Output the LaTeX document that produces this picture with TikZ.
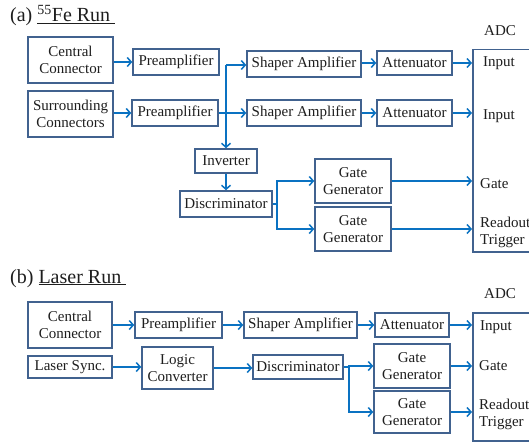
\documentclass[tikz,border=0pt]{standalone}
\usepackage{fontspec}
\setmainfont{Liberation Serif}
\usetikzlibrary{arrows.meta}
\definecolor{boxc}{HTML}{41628F}
\definecolor{arrc}{HTML}{0A72C2}
\definecolor{txtc}{HTML}{1E1E1E}
\tikzset{
  blk/.style={draw=boxc, line width=1.5pt, inner sep=0pt, align=center, text=txtc,
    font=\fontsize{15}{17}\selectfont},
  lbl/.style={inner sep=0pt, text=txtc, font=\fontsize{15}{17}\selectfont, align=left},
  ttl/.style={inner sep=0pt, text=txtc, font=\fontsize{20}{24}\selectfont},
  arr/.style={draw=arrc, line width=1.5pt, -{Straight Barb[length=4pt,width=9pt]}}
}
\begin{document}
\begin{tikzpicture}[x=1pt,y=-1pt]
\clip (0,0) rectangle (529,441);
\fill[white] (0,0) rectangle (529,441);

% ---------- (a) ----------
\node[ttl, anchor=base west] (ta) at (10,22) {(a) \underline{\textsuperscript{55}Fe Run\ }};

\node[blk, minimum width=85, minimum height=46] (cc1) at (70.5,60) {Central\\Connector};
\node[blk, minimum width=86, minimum height=26] (pre1) at (176,62) {Preamplifier};
\node[blk, minimum width=85, minimum height=46] (sc) at (70.5,114) {Surrounding\\Connectors};
\node[blk, minimum width=86, minimum height=26] (pre2) at (175,113) {Preamplifier};
\node[blk, minimum width=114, minimum height=26] (sh1) at (304,64) {Shaper Amplifier};
\node[blk, minimum width=75, minimum height=24] (att1) at (414.5,63) {Attenuator};
\node[blk, minimum width=114, minimum height=26] (sh2) at (304,113) {Shaper Amplifier};
\node[blk, minimum width=75, minimum height=26] (att2) at (414.5,113) {Attenuator};
\node[blk, minimum width=62, minimum height=24] (inv) at (226,161) {Inverter};
\node[blk, minimum width=92, minimum height=26] (disc) at (226,204) {Discriminator};
\node[blk, minimum width=76, minimum height=44] (gg1) at (353,181) {Gate\\Generator};
\node[blk, minimum width=76, minimum height=44] (gg2) at (353,229) {Gate\\Generator};
\node[blk, anchor=north west, minimum width=80, minimum height=202] (adc1) at (472,49) {};

\node[lbl, anchor=base] (adcl1) at (500,36) {ADC};
\node[lbl, anchor=base west] (in1) at (483,67) {Input};
\node[lbl, anchor=base west] (in2) at (483,119) {Input};
\node[lbl, anchor=base west] (gt1) at (480,188) {Gate};
\node[lbl, anchor=west] (rt1) at (480,232) {Readout\\Trigger};

\draw[arr] (cc1.east |- pre1.west) -- (pre1.west);
\draw[arr] (sc.east |- pre2.west) -- (pre2.west);
\draw[arr] (pre2.east) -- (sh2.west |- pre2.east);
\coordinate (jt) at (226,65);
\draw[arr] (jt) -- (jt -| sh1.west);
\draw[arr] (jt) -- (inv.north);
\draw[arr] (sh1.east |- att1.west) -- (att1.west);
\draw[arr] (sh2.east |- att2.west) -- (att2.west);
\draw[arr] (att1.east) -- (att1.east -| adc1.west);
\draw[arr] (att2.east) -- (att2.east -| adc1.west);
\draw[arr] (inv.south) -- (disc.north);
\draw[arr] (disc.east) -- ++(4,0) |- (gg1.west);
\draw[arr] (disc.east) -- ++(4,0) |- (gg2.west);
\draw[arr] (gg1.east) -- (gg1.east -| adc1.west);
\draw[arr] (gg2.east) -- (gg2.east -| adc1.west);

% ---------- (b) ----------
\node[ttl, anchor=base west] (tb) at (10,283) {(b) \underline{Laser Run\ }};

\node[blk, minimum width=84, minimum height=46] (cc2) at (70,325) {Central\\Connector};
\node[blk, minimum width=87, minimum height=26] (pre3) at (178.5,325) {Preamplifier};
\node[blk, minimum width=113, minimum height=26] (sh3) at (300.5,325) {Shaper Amplifier};
\node[blk, minimum width=74, minimum height=24] (att3) at (412,325) {Attenuator};
\node[blk, minimum width=84, minimum height=22] (ls) at (70,367) {Laser Sync.};
\node[blk, minimum width=71, minimum height=42] (lc) at (177.5,368) {Logic\\Converter};
\node[blk, minimum width=90, minimum height=24] (disc2) at (298,367) {Discriminator};
\node[blk, minimum width=76, minimum height=44] (gg3) at (412,366) {Gate\\Generator};
\node[blk, minimum width=76, minimum height=42] (gg4) at (412,412) {Gate\\Generator};
\node[blk, anchor=north west, minimum width=80, minimum height=128] (adc2) at (472,312) {};

\node[lbl, anchor=base] (adcl2) at (500,298) {ADC};
\node[lbl, anchor=base west] (in3) at (480,330) {Input};
\node[lbl, anchor=base west] (gt2) at (479,370) {Gate};
\node[lbl, anchor=west] (rt2) at (479,414) {Readout\\Trigger};

\draw[arr] (cc2.east |- pre3.west) -- (pre3.west);
\draw[arr] (pre3.east) -- (sh3.west |- pre3.east);
\draw[arr] (sh3.east |- att3.west) -- (att3.west);
\draw[arr] (att3.east) -- (att3.east -| adc2.west);
\draw[arr] (ls.east) -- (lc.west |- ls.east);
\draw[arr] (lc.east) -- (disc2.west |- lc.east);
\draw[arr] (disc2.east) -- ++(5,0) |- (gg3.west);
\draw[arr] (disc2.east) -- ++(5,0) |- (gg4.west);
\draw[arr] (gg3.east) -- (gg3.east -| adc2.west);
\draw[arr] (gg4.east) -- (gg4.east -| adc2.west);
\end{tikzpicture}
\end{document}
